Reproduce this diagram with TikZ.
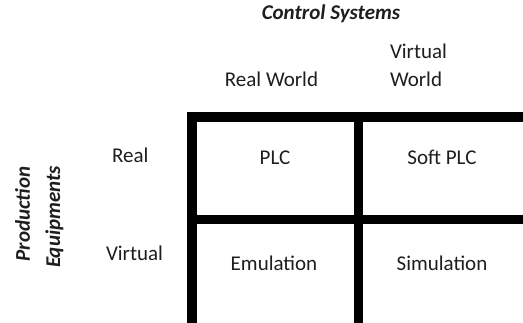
\documentclass[tikz,border=0pt]{standalone}
\usepackage{fontspec}
\setmainfont{Carlito}
\definecolor{txt}{HTML}{1E1E1E}
\tikzset{
  lbl/.style={inner sep=0pt, outer sep=0pt, text=txt, font=\fontsize{21}{28}\selectfont},
  head/.style={lbl, font=\fontsize{21}{28}\selectfont\bfseries\itshape},
  outerline/.style={line width=10pt, draw=black},
  innerline/.style={line width=8.5pt, draw=black}
}
\begin{document}
\begin{tikzpicture}[x=1pt,y=-1pt]
\useasboundingbox (0,0) rectangle (523,323);
\clip (0,0) rectangle (523,323);
\fill[white] (0,0) rectangle (523,323);
% grid
\coordinate (tl) at (192,117);
\coordinate (br) at (540,330);
\coordinate (vtop) at (358.5,117);
\coordinate (vbot) at (358.5,330);
\coordinate (hleft) at (192,219.5);
\coordinate (hright) at (540,219.5);
\draw[innerline] (vtop) -- (vbot);
\draw[innerline] (hleft) -- (hright);
\draw[outerline] (tl) rectangle (br);
% headers
\node[head, anchor=base] (cs) at (331,20) {Control Systems};
\node[lbl, anchor=base] (rw) at (271.5,87) {Real World};
\node[lbl, anchor=base west] (vw1) at (390,59) {Virtual};
\node[lbl, anchor=base west] (vw2) at (390,87) {World};
\node[head, anchor=base, rotate=90] (pe1) at (30,214) {Production};
\node[head, anchor=base, rotate=90] (pe2) at (60,217) {Equipments};
\node[lbl, anchor=base west] (rr) at (112,163) {Real};
\node[lbl, anchor=base west] (rv) at (106,261) {Virtual};
% cells
\node[lbl, anchor=base] (plc) at (275,165) {PLC};
\node[lbl, anchor=base] (soft) at (442,165) {Soft PLC};
\node[lbl, anchor=base] (emu) at (274,271) {Emulation};
\node[lbl, anchor=base] (sim) at (442,271) {Simulation};
\end{tikzpicture}
\end{document}
